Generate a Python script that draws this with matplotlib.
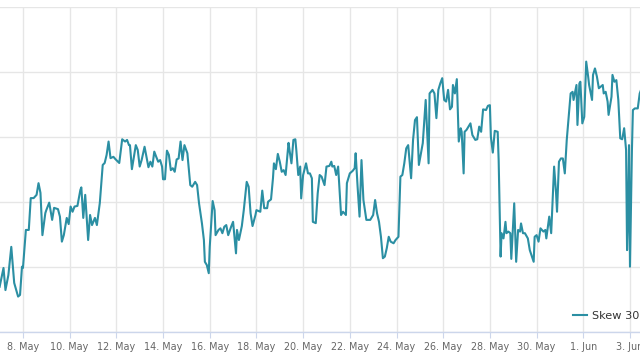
import numpy as np
import pandas as pd
import matplotlib
matplotlib.use("Agg")
import matplotlib.pyplot as plt
import matplotlib.dates as mdates

# hours after 7 May 00:00 and skew value
start = pd.Timestamp("2022-05-07 00:00")
hours = [0, 4, 6, 9, 12, 15, 19, 21, 23, 24, 27, 30, 32, 35, 38, 40, 42, 44, 47, 48,
         51, 54, 56, 60, 62, 64, 66, 69, 71, 73, 75, 77, 80, 83, 84, 86, 88, 91, 93, 95,
         98, 100, 103, 106, 108, 110, 112, 114, 117, 119, 123, 126, 129, 131, 133, 134, 136, 140, 142, 144,
         146, 149, 151, 153, 155, 157, 159, 161, 163, 165, 167, 168, 170, 172, 174, 176, 178, 180, 182, 184,
         186, 188, 190, 193, 196, 198, 201, 203, 205, 208, 210, 211, 213, 215, 216, 219, 221, 222, 225, 227,
         229, 231, 233, 235, 238, 240, 243, 244, 246, 249, 251, 254, 256, 258, 260, 263, 264, 268, 270, 272,
         275, 276, 279, 281, 282, 284, 286, 288, 290, 292, 294, 297, 298, 300, 302, 304, 305, 307, 309, 310,
         312, 315, 317, 319, 321, 322, 325, 327, 329, 331, 334, 336, 339, 341, 342, 344, 346, 348, 351, 353,
         356, 357, 360, 363, 365, 366, 368, 370, 372, 374, 376, 377, 381, 384, 386, 388, 390, 392, 394, 396,
         398, 400, 402, 405, 407, 410, 412, 414, 416, 418, 420, 423, 425, 427, 429, 431, 435, 438, 441, 442,
         445, 447, 449, 451, 453, 455, 457, 459, 461, 463, 465, 466, 468, 470, 472, 474, 475, 477, 478, 480,
         484, 486, 489, 491, 493, 495, 497, 500, 502, 504, 505, 507, 509, 512, 513, 515, 516, 518, 520, 521,
         523, 525, 526, 529, 531, 533, 535, 536, 538, 540, 543, 545, 549, 550, 552, 554, 556, 559, 561, 562,
         565, 567, 569, 570, 572, 573, 575, 577, 579, 581, 583, 585, 587, 589, 590, 593, 594, 596, 597, 599,
         601, 603, 605, 606, 609, 610, 612, 614, 616, 618, 620, 621, 623, 625, 626, 629, 630, 632, 634, 636,
         638, 640, 642, 644, 645, 646, 647, 648, 650, 651, 653, 656, 658, 660]
skew30 = [-4.61, -4.03, -4.71, -4.25, -3.38, -4.49, -4.91, -4.86, -3.99, -4.03, -2.86, -2.86, -1.88, -1.88, -1.78, -1.42, -1.72, -3.02, -2.34, -2.25,
          -2.02, -2.55, -2.18, -2.22, -2.45, -3.22, -3.02, -2.49, -2.68, -2.14, -2.30, -2.14, -2.12, -1.63, -1.55, -2.49, -1.78, -3.17, -2.40, -2.71,
          -2.49, -2.71, -2.03, -0.86, -0.80, -0.55, -0.14, -0.65, -0.61, -0.68, -0.80, -0.07, -0.14, -0.09, -0.25, -0.25, -0.99, -0.25, -0.40, -0.91,
          -0.71, -0.30, -0.61, -0.93, -0.76, -0.91, -0.45, -0.61, -0.76, -0.71, -0.91, -1.30, -1.30, -0.42, -0.55, -1.02, -0.96, -1.07, -0.69, -0.66,
          -0.14, -0.71, -0.25, -0.50, -1.48, -1.53, -1.38, -1.48, -2.04, -2.66, -3.17, -3.84, -3.94, -4.19, -3.38, -1.97, -2.25, -3.02, -2.86, -2.81,
          -2.96, -2.76, -2.71, -3.02, -2.76, -2.61, -3.58, -2.86, -3.17, -2.74, -2.25, -1.38, -1.53, -2.35, -2.74, -2.40, -2.25, -2.30, -1.65, -2.19,
          -2.19, -1.99, -1.92, -1.27, -0.81, -0.99, -0.52, -0.76, -1.07, -1.02, -1.17, -0.18, -0.40, -0.81, -0.09, -0.07, -0.40, -1.17, -0.91, -1.89,
          -1.17, -0.81, -1.12, -1.12, -1.27, -2.61, -2.65, -1.73, -1.17, -1.22, -1.48, -0.91, -0.89, -0.76, -0.91, -0.89, -1.17, -0.91, -2.40, -2.30,
          -2.40, -1.42, -1.12, -1.04, -0.96, -0.50, -1.53, -2.45, -0.71, -1.94, -2.35, -2.55, -2.55, -2.40, -1.94, -2.35, -2.61, -3.07, -3.73, -3.68,
          -3.42, -3.07, -3.22, -3.27, -3.17, -3.07, -1.22, -1.17, -0.81, -0.35, -0.25, -1.27, -0.09, 0.52, 0.61, -0.86, -0.19, 1.14, -0.81, 1.34,
          1.45, 1.34, 0.58, 1.45, 1.65, 1.81, 1.14, 1.09, 1.45, 0.85, 0.93, 1.60, 1.34, 1.78, -0.14, 0.27, 0.16, -1.12, 0.16, 0.22,
          0.42, 0.06, -0.09, -0.07, 0.32, 0.16, 0.85, 0.83, 0.96, 0.98, 0.01, -0.48, 0.19, 0.16, -0.71, -3.68, -2.96, -3.12, -2.61, -2.96,
          -2.91, -2.96, -3.75, -2.04, -3.84, -2.86, -2.91, -2.66, -2.96, -2.96, -3.12, -3.48, -3.84, -3.07, -3.02, -3.22, -2.81, -2.91, -2.86, -3.12,
          -2.45, -2.96, -1.63, -0.91, -1.72, -2.30, -0.76, -0.66, -0.66, -1.12, -0.09, 0.62, 1.34, 1.39, 1.14, 1.60, 0.37, 1.65, 1.70, 0.42,
          0.62, 2.32, 1.86, 1.60, 1.14, 1.91, 2.11, 1.86, 1.50, 1.55, 1.60, 1.34, 1.39, 1.09, 0.68, 1.24, 1.91, 1.70, 1.75, 1.14,
          -0.04, -0.07, 0.27, -0.40, -3.48, -2.45, -0.25, -3.99, -0.40, 0.83, 0.88, 0.88, 1.34, 1.50]

times = start + pd.to_timedelta(hours, unit="h")

fig = plt.figure(figsize=(6.4, 3.6), dpi=100)
ax = fig.add_axes([0, 28 / 360, 1, 325 / 360])

ax.plot(times, skew30, color="#2b8fa3", lw=1.5, label="Skew 30", solid_joinstyle="round")

ax.set_xlim(start + pd.Timedelta(hours=0.4), start + pd.Timedelta(hours=658.3))
ax.set_ylim(-6, 4)
ax.set_yticks(np.arange(-6, 5, 2))
ax.tick_params(axis="y", left=False, labelleft=False)

ax.xaxis.set_major_locator(mdates.DayLocator(bymonthday=[8, 10, 12, 14, 16, 18, 20, 22, 24, 26, 28, 30, 1, 3]))
ax.xaxis.set_major_formatter(mdates.DateFormatter("%-d. %b"))
ax.tick_params(axis="x", length=4, color="#ccd6eb", labelsize=6.9, labelcolor="#666666", pad=3)

ax.grid(True, color="#e6e6e6", lw=1)
ax.set_axisbelow(True)
for s in ["left", "right", "top"]:
    ax.spines[s].set_visible(False)
ax.spines["bottom"].set_color("#ccd6eb")
ax.spines["bottom"].set_linewidth(1)

leg = ax.legend(loc="center left", bbox_to_anchor=(573 / 640, 44 / 360), bbox_transform=fig.transFigure,
                frameon=False, fontsize=8.1, handlelength=1.2, handletextpad=0.45, borderpad=0, borderaxespad=0)
for t in leg.get_texts():
    t.set_color("#333333")

fig.savefig("out.png", dpi=100)
